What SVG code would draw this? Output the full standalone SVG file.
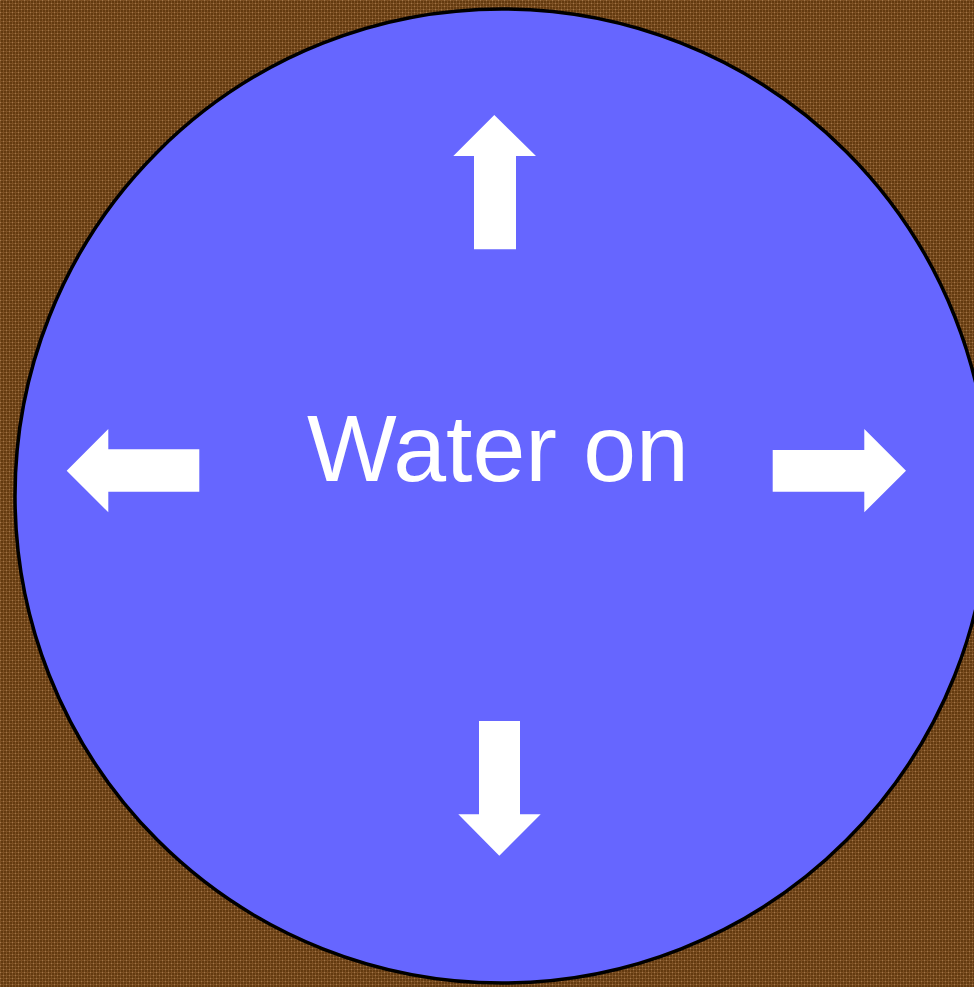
<svg xmlns="http://www.w3.org/2000/svg" width="974" height="987" viewBox="0 0 974 987">
  <defs>
    <pattern id="bg" width="6" height="6" patternUnits="userSpaceOnUse">
      <rect width="6" height="6" fill="#623a10"/>
      <rect x="0" y="0" width="6" height="1" fill="#7d5023"/>
      <rect x="0" y="3" width="6" height="1" fill="#7d5023"/>
      <rect x="0" y="0" width="1" height="6" fill="#7d5023"/>
      <rect x="3" y="0" width="1" height="6" fill="#7d5023"/>
      <rect x="0" y="0" width="1" height="1" fill="#a0764a"/>
      <rect x="3" y="3" width="1" height="1" fill="#a0764a"/>
    </pattern>
    <style>
      .arrow { fill: #ffffff; }
      .label { font-family: "Liberation Sans", Arial, sans-serif; font-size: 95px; fill: #ffffff; }
    </style>
  </defs>
  <rect id="background" x="0" y="0" width="974" height="987" fill="url(#bg)"/>
  <g id="pond">
    <circle cx="502" cy="496" r="487" fill="#6666ff" stroke="#000000" stroke-width="3.5"/>
    <text class="label" x="498" y="481" text-anchor="middle">Water on</text>
  </g>
  <g id="connectors">
    <polygon id="arrow-up" class="arrow" points="494.3,115 536,156 516,156 516,249.3 474,249.3 474,156 453.3,156"/>
    <polygon id="arrow-left" class="arrow" points="66.7,470.7 108.3,429 108.3,449.3 199.3,449.3 199.3,491.7 108.3,491.7 108.3,512.3"/>
    <polygon id="arrow-right" class="arrow" points="906,470.7 864.3,429 864.3,450 772.7,450 772.7,491.7 864.3,491.7 864.3,512.3"/>
    <polygon id="arrow-down" class="arrow" points="499.3,855.7 540.7,814.3 520,814.3 520,721 479,721 479,814.3 458.3,814.3"/>
  </g>
</svg>
